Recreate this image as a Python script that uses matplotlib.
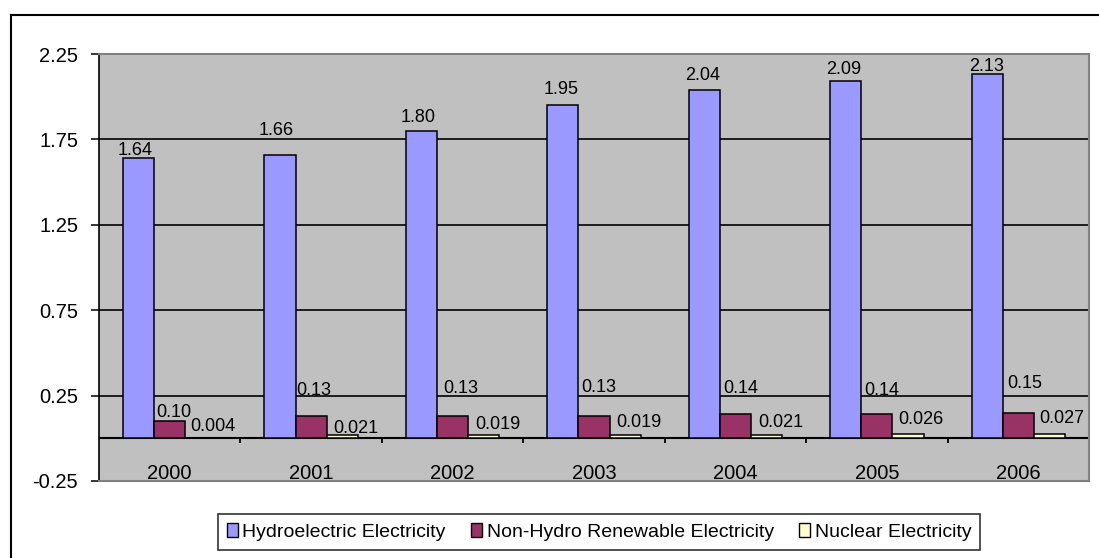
import matplotlib
matplotlib.use("Agg")
import matplotlib.pyplot as plt
from matplotlib.lines import Line2D
from matplotlib.patches import Patch
import numpy as np

plt.rcParams['font.family'] = ['Liberation Sans', 'DejaVu Sans']
plt.rcParams['axes.unicode_minus'] = False

# ---- data ----
years = ['2000', '2001', '2002', '2003', '2004', '2005', '2006']
hydro = [1.64, 1.66, 1.80, 1.95, 2.04, 2.09, 2.13]
nonhydro = [0.10, 0.13, 0.13, 0.13, 0.14, 0.14, 0.15]
nuclear = [0.004, 0.021, 0.019, 0.019, 0.021, 0.026, 0.027]
series_names = ['Hydroelectric Electricity', 'Non-Hydro Renewable Electricity', 'Nuclear Electricity']
yticks = [-0.25, 0.25, 0.75, 1.25, 1.75, 2.25]

# label offsets (pixels) from bar top-center
hydro_dx = [-3.4, -3.7, -3, -1.7, -1.5, -2.3, -1]
hydro_dy = [3, 20, 9, 11, 10, 7, 3]
nonhydro_dx = [4.2, 3, 8, 5.2, 5.2, 5.3, 6.7]
nonhydro_dy = [4.5, 21, 23, 24.4, 21.7, 19.4, 24.4]
nuclear_dx = [12, 13.3, 14.5, 14, 14.2, 12.8, 12.5]
nuclear_dy = [7, 1.4, 5.8, 7.8, 7.4, 9.9, 10.4]

colors = ['#9999FF', '#993366', '#FFFFCC']
W, H = 1099, 558
fig = plt.figure(figsize=(W / 100, H / 100), dpi=100)
ax = fig.add_axes([99 / W, 77 / H, 990 / W, 427 / H])
ax.set_facecolor('#C0C0C0')

x = np.arange(len(years))
bw = 0.22
all_series = [hydro, nonhydro, nuclear]
all_dx = [hydro_dx, nonhydro_dx, nuclear_dx]
all_dy = [hydro_dy, nonhydro_dy, nuclear_dy]
fmts = ['{:.2f}', '{:.2f}', '{:.3f}']
for k, (vals, col) in enumerate(zip(all_series, colors)):
    xs = x + (k - 1) * bw
    ax.bar(xs, vals, width=bw, color=col, edgecolor='black', linewidth=1.1, zorder=3)
    for xi, v, dx, dy in zip(xs, vals, all_dx[k], all_dy[k]):
        ax.annotate(fmts[k].format(v), xy=(xi, v), xytext=(dx, dy), textcoords='offset pixels',
                    ha='center', va='baseline', fontsize=13, zorder=4)

ax.set_xlim(-0.5, len(years) - 0.5)
ax.set_ylim(-0.25, 2.25)
ax.set_yticks(yticks)
ax.set_yticklabels(['{:.2f}'.format(t) for t in yticks], fontsize=14.5)
ax.tick_params(axis='y', length=6, width=1.1, pad=9, color='black')
ax.set_xticks([])
ax.set_axisbelow(True)
ax.yaxis.grid(True, color='black', linewidth=1.2, zorder=1)
ax.get_ygridlines()[0].set_visible(False)
ax.axhline(0, color='black', linewidth=1.5, zorder=2)

# category boundary ticks on the zero line
bounds = np.arange(len(years)) + 0.5
ax.vlines(bounds, -0.025, 0, color='black', linewidth=1.3, zorder=2)

for xi, yr in zip(x, years):
    ax.annotate(yr, xy=(xi, -0.25), xytext=(0, 2), textcoords='offset pixels',
                ha='center', va='baseline', fontsize=14.5)

for s in ['top', 'right', 'bottom']:
    ax.spines[s].set_color('#808080')
    ax.spines[s].set_linewidth(1.5)
ax.spines['left'].set_color('black')
ax.spines['left'].set_linewidth(1.2)

# outer frame
fig.add_artist(Line2D([11 / W, 11 / W], [0, 1 - 15 / H], transform=fig.transFigure, color='black', lw=1.5))
fig.add_artist(Line2D([11 / W, 1], [1 - 15 / H, 1 - 15 / H], transform=fig.transFigure, color='black', lw=1.5))

handles = [Patch(facecolor=c, edgecolor='black', linewidth=1.0) for c in colors]
leg = fig.legend(handles, series_names, loc='center', bbox_to_anchor=(599 / W, 1 - 532 / H),
                 ncol=3, frameon=True, fancybox=False, edgecolor='black',
                 handlelength=0.55, handleheight=0.7, handletextpad=0.25, columnspacing=1.3,
                 borderpad=0.45, prop={'family': ['Liberation Sans'], 'size': 14})
leg.get_frame().set_linewidth(1.2)

fig.savefig('out.png', dpi=100, facecolor='white')
